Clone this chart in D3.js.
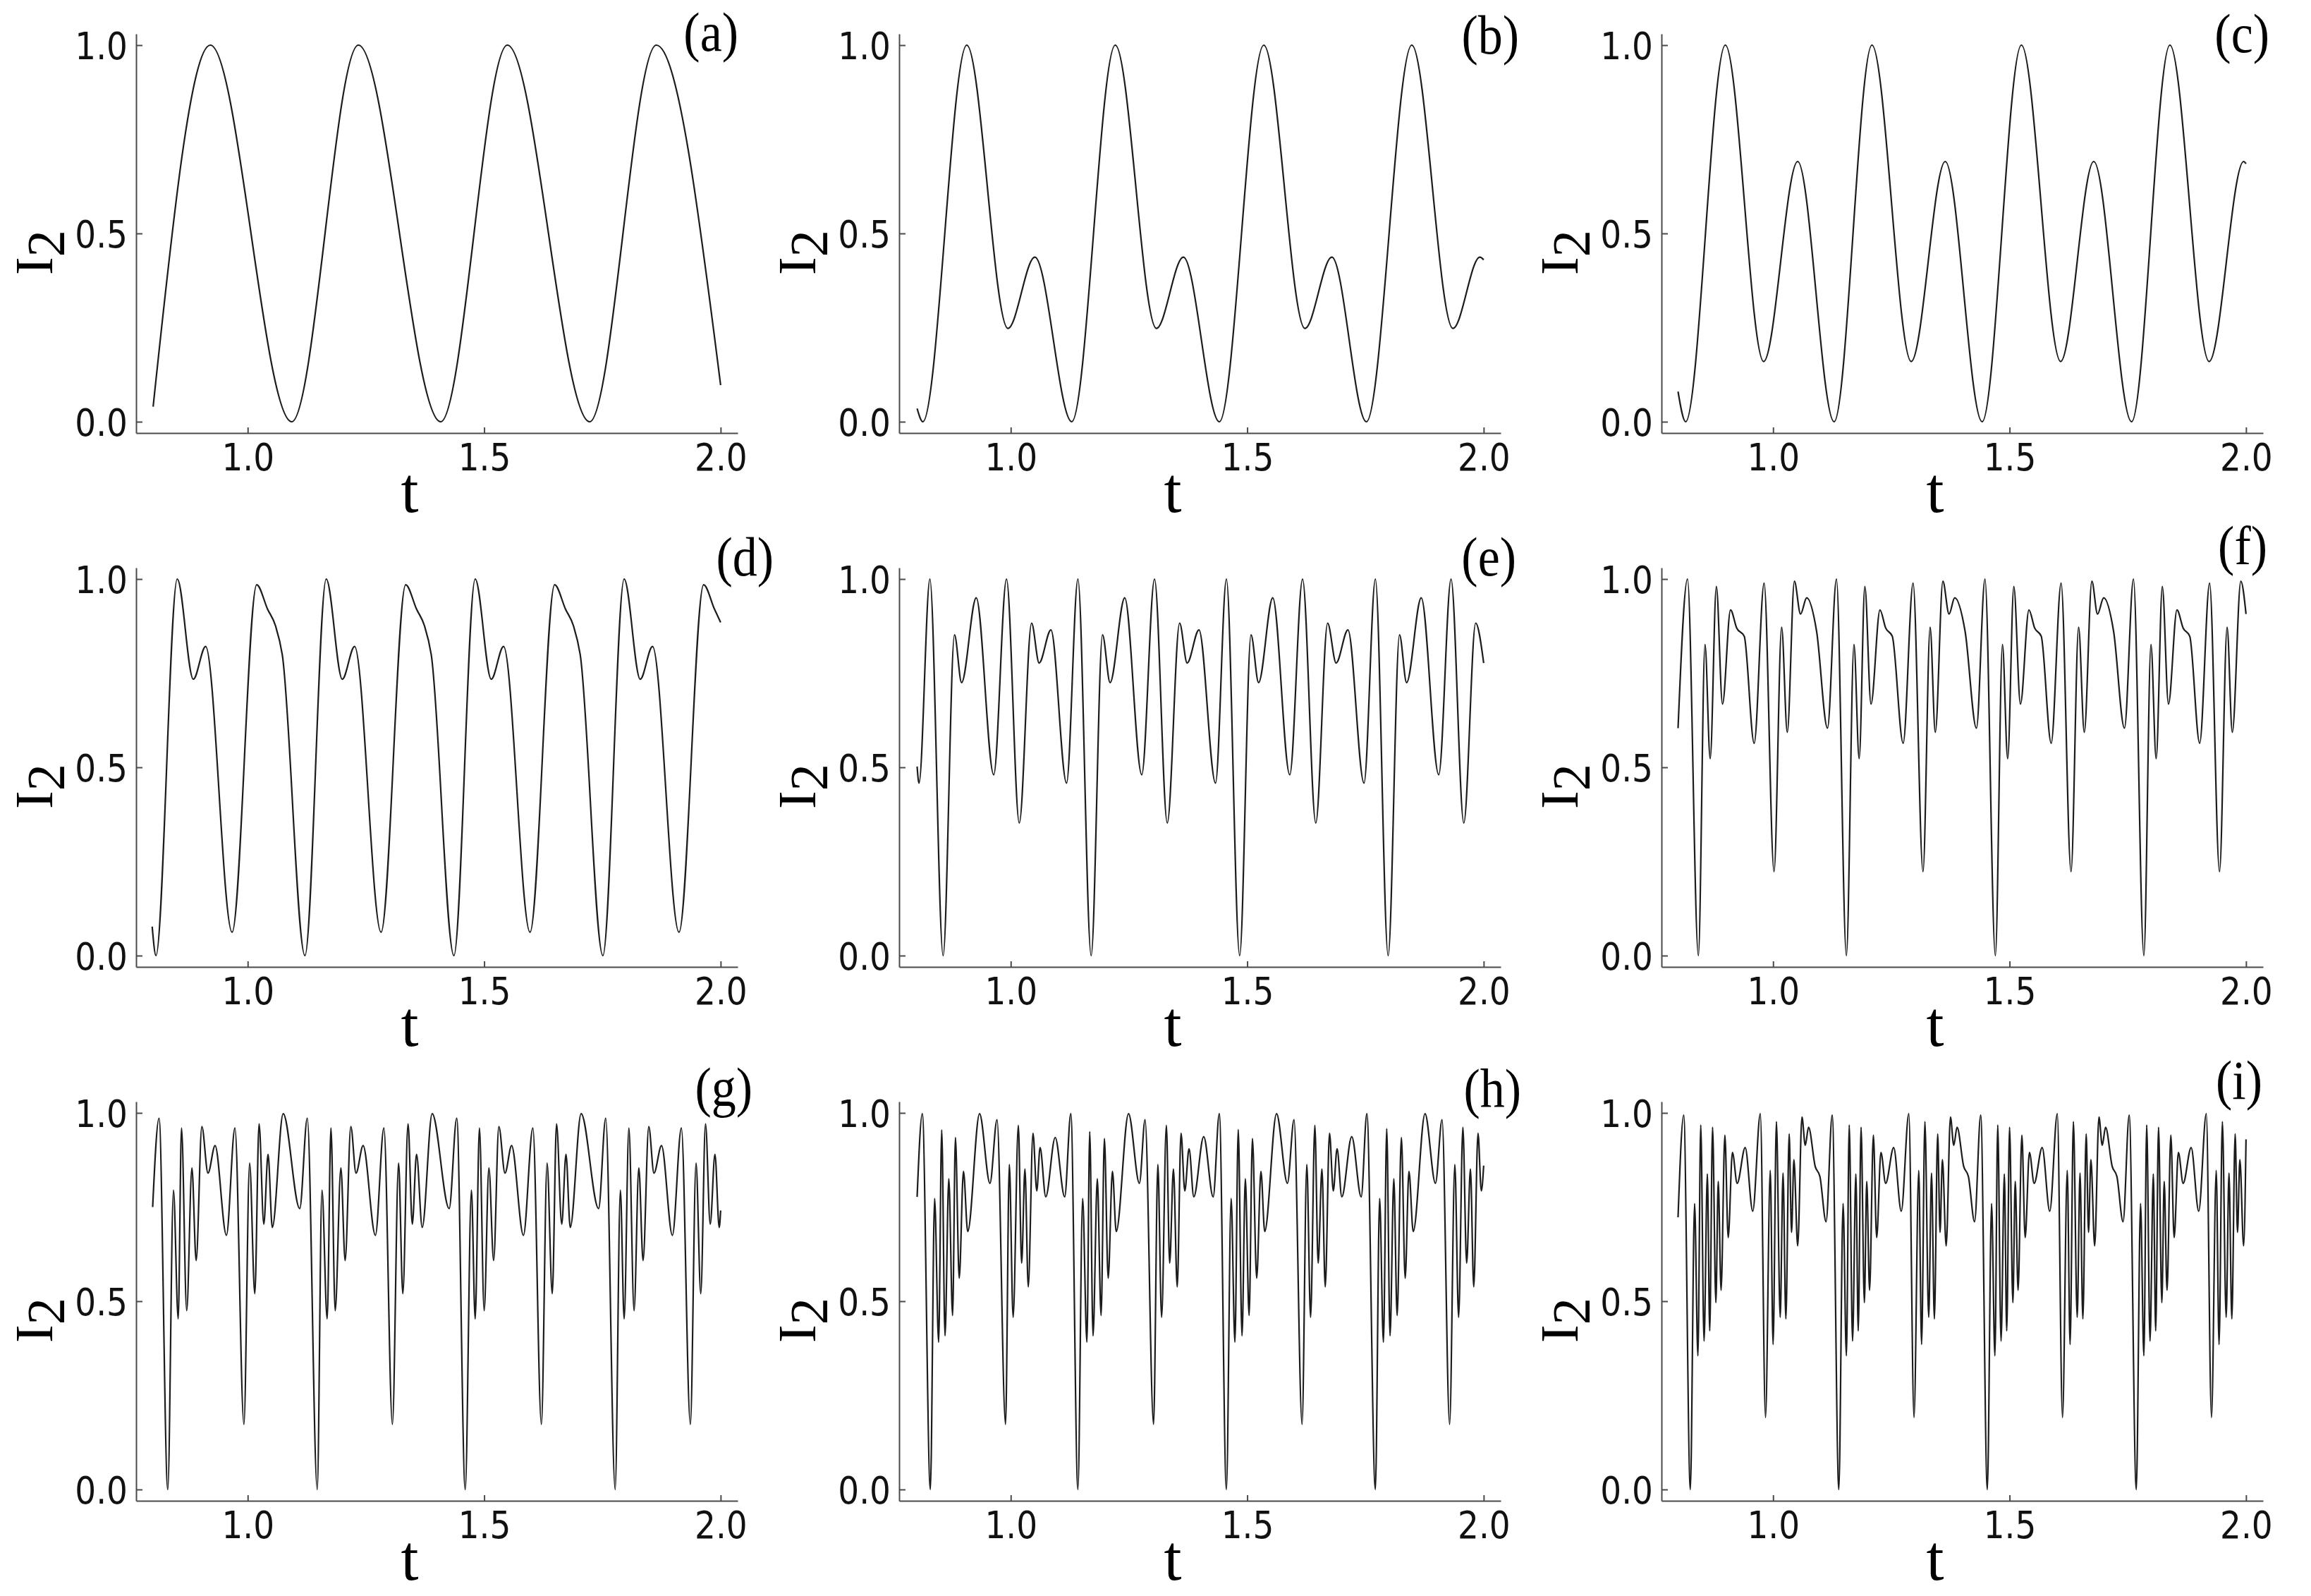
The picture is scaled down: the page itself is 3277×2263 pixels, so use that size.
<!DOCTYPE html>
<html>
<head>
<meta charset="utf-8">
<script src="https://cdn.jsdelivr.net/npm/d3@7"></script>
<style>
  html, body { margin: 0; padding: 0; background: #ffffff; }
  svg { display: block; }
</style>
</head>
<body>
<svg id="chart" width="3277" height="2263"></svg>
<script>
// ---------------- data ----------------
const xTickValues = [1.0, 1.5, 2.0];
const xTickLabels = ["1.0", "1.5", "2.0"];
const yTickValues = [0.0, 0.5, 1.0];
const yTickLabels = ["0.0", "0.5", "1.0"];
const panelLabels = ["(a)", "(b)", "(c)", "(d)", "(e)", "(f)", "(g)", "(h)", "(i)"];
const xAxisTitle = "t";
const yAxisTitleMain = "I";
const yAxisTitleSub = "2";

const tA = [0.800, 0.921, 1.093, 1.234, 1.408, 1.549, 1.723, 1.864, 2.000];
const vA = [0.040, 1.000, 0.000, 1.000, 0.000, 1.000, 0.000, 1.000, 0.097];

const tB = [0.802, 0.814, 0.907, 0.994, 1.051, 1.129, 1.221, 1.308, 1.365, 1.441, 1.535, 1.622, 1.679, 1.752, 1.848, 1.935, 1.992, 2.000];
const vB = [0.035, 0.000, 1.000, 0.248, 0.437, 0.000, 1.000, 0.248, 0.437, 0.000, 1.000, 0.248, 0.437, 0.000, 1.000, 0.248, 0.437, 0.430];

const tC = [0.799, 0.815, 0.899, 0.980, 1.052, 1.129, 1.209, 1.292, 1.364, 1.442, 1.525, 1.608, 1.678, 1.758, 1.839, 1.922, 1.995, 2.000];
const vC = [0.080, 0.000, 1.000, 0.160, 0.691, 0.000, 1.000, 0.160, 0.691, 0.000, 1.000, 0.160, 0.691, 0.000, 1.000, 0.160, 0.691, 0.685];

const tD = [0.798, 0.806, 0.851, 0.885, 0.911, 0.967, 1.019, 1.042, 1.059, 1.073,
            1.121, 1.166, 1.200, 1.226, 1.282, 1.334, 1.357, 1.374, 1.388,
            1.436, 1.481, 1.515, 1.541, 1.597, 1.649, 1.672, 1.689, 1.703,
            1.751, 1.796, 1.830, 1.856, 1.912, 1.964, 1.987, 2.000];
const vD = [0.077, 0.000, 1.000, 0.734, 0.821, 0.062, 0.985, 0.920, 0.875, 0.800,
            0.000, 1.000, 0.734, 0.821, 0.062, 0.985, 0.920, 0.875, 0.800,
            0.000, 1.000, 0.734, 0.821, 0.062, 0.985, 0.920, 0.875, 0.800,
            0.000, 1.000, 0.734, 0.821, 0.062, 0.985, 0.920, 0.885];

const tE = [0.802, 0.806, 0.829,
            0.857, 0.881, 0.896, 0.927, 0.964, 0.991, 1.018, 1.044, 1.060, 1.085, 1.118, 1.142,
            1.170, 1.194, 1.210, 1.241, 1.277, 1.304, 1.331, 1.357, 1.373, 1.398, 1.433, 1.456,
            1.484, 1.508, 1.524, 1.554, 1.590, 1.617, 1.645, 1.670, 1.688, 1.713, 1.747, 1.771,
            1.798, 1.822, 1.837, 1.868, 1.905, 1.931, 1.958, 1.983, 2.000];
const vE = [0.502, 0.458, 1.000,
            0.000, 0.852, 0.725, 0.950, 0.480, 1.000, 0.352, 0.883, 0.777, 0.865, 0.458, 1.000,
            0.000, 0.852, 0.725, 0.950, 0.480, 1.000, 0.352, 0.883, 0.777, 0.865, 0.458, 1.000,
            0.000, 0.852, 0.725, 0.950, 0.480, 1.000, 0.352, 0.883, 0.777, 0.865, 0.458, 1.000,
            0.000, 0.852, 0.725, 0.950, 0.480, 1.000, 0.352, 0.883, 0.777];

const tF = [0.799, 0.819,
            0.842, 0.856, 0.867, 0.880, 0.893, 0.910, 0.923, 0.939, 0.960, 0.981, 1.002, 1.018, 1.030, 1.045, 1.058, 1.071, 1.092, 1.115, 1.134,
            1.155, 1.171, 1.182, 1.194, 1.207, 1.226, 1.238, 1.252, 1.275, 1.296, 1.317, 1.332, 1.343, 1.359, 1.372, 1.384, 1.406, 1.430, 1.448,
            1.470, 1.485, 1.496, 1.509, 1.523, 1.541, 1.553, 1.567, 1.588, 1.609, 1.630, 1.646, 1.658, 1.674, 1.686, 1.699, 1.720, 1.743, 1.762,
            1.784, 1.799, 1.810, 1.823, 1.836, 1.854, 1.867, 1.881, 1.902, 1.923, 1.944, 1.960, 1.971, 1.989, 2.000];
const vF = [0.604, 1.000,
            0.000, 0.826, 0.523, 0.980, 0.668, 0.918, 0.870, 0.848, 0.564, 0.989, 0.223, 0.872, 0.593, 0.994, 0.907, 0.950, 0.861, 0.604, 1.000,
            0.000, 0.826, 0.523, 0.980, 0.668, 0.918, 0.870, 0.848, 0.564, 0.989, 0.223, 0.872, 0.593, 0.994, 0.907, 0.950, 0.861, 0.604, 1.000,
            0.000, 0.826, 0.523, 0.980, 0.668, 0.918, 0.870, 0.848, 0.564, 0.989, 0.223, 0.872, 0.593, 0.994, 0.907, 0.950, 0.861, 0.604, 1.000,
            0.000, 0.826, 0.523, 0.980, 0.668, 0.918, 0.870, 0.848, 0.564, 0.989, 0.223, 0.872, 0.593, 0.994, 0.907];

const tG = [0.799, 0.8125,
            0.831, 0.843, 0.853, 0.860, 0.871, 0.882, 0.891, 0.903, 0.916, 0.931, 0.955, 0.973, 0.992, 1.004, 1.015, 1.024, 1.034, 1.043, 1.052, 1.075, 1.110, 1.126,
            1.147, 1.157, 1.168, 1.176, 1.185, 1.197, 1.206, 1.218, 1.229, 1.244, 1.270, 1.288, 1.306, 1.319, 1.328, 1.339, 1.348, 1.357, 1.369, 1.390, 1.426, 1.442,
            1.460, 1.473, 1.481, 1.490, 1.500, 1.510, 1.520, 1.531, 1.544, 1.558, 1.583, 1.603, 1.621, 1.633, 1.644, 1.653, 1.664, 1.673, 1.682, 1.705, 1.742, 1.757,
            1.777, 1.788, 1.796, 1.806, 1.817, 1.827, 1.836, 1.848, 1.859, 1.875, 1.898, 1.917, 1.936, 1.948, 1.958, 1.968, 1.978, 1.988, 1.997, 2.000];
const vG = [0.750, 0.986,
            0.000, 0.795, 0.453, 0.960, 0.475, 0.854, 0.608, 0.964, 0.840, 0.913, 0.675, 0.960, 0.173, 0.867, 0.520, 0.971, 0.705, 0.890, 0.696, 0.998, 0.746, 0.986,
            0.000, 0.795, 0.453, 0.960, 0.475, 0.854, 0.608, 0.964, 0.840, 0.913, 0.675, 0.960, 0.173, 0.867, 0.520, 0.971, 0.705, 0.890, 0.696, 0.998, 0.746, 0.986,
            0.000, 0.795, 0.453, 0.960, 0.475, 0.854, 0.608, 0.964, 0.840, 0.913, 0.675, 0.960, 0.173, 0.867, 0.520, 0.971, 0.705, 0.890, 0.696, 0.998, 0.746, 0.986,
            0.000, 0.795, 0.453, 0.960, 0.475, 0.854, 0.608, 0.964, 0.840, 0.913, 0.675, 0.960, 0.173, 0.867, 0.520, 0.971, 0.705, 0.890, 0.696, 0.741];

const tH = [0.802, 0.813,
            0.830, 0.839, 0.8475, 0.854, 0.861, 0.869, 0.877, 0.883, 0.891, 0.900, 0.909, 0.934, 0.956, 0.971, 0.989, 0.997, 1.005, 1.016, 1.023, 1.030, 1.037, 1.047, 1.055, 1.062, 1.074, 1.094, 1.114, 1.127,
            1.142, 1.152, 1.161, 1.167, 1.174, 1.183, 1.191, 1.198, 1.206, 1.215, 1.223, 1.249, 1.272, 1.284, 1.302, 1.311, 1.319, 1.329, 1.336, 1.344, 1.352, 1.360, 1.368, 1.377, 1.387, 1.408, 1.428, 1.441,
            1.456, 1.466, 1.474, 1.481, 1.489, 1.496, 1.504, 1.511, 1.520, 1.529, 1.537, 1.562, 1.585, 1.599, 1.616, 1.626, 1.634, 1.643, 1.650, 1.658, 1.665, 1.674, 1.682, 1.690, 1.700, 1.721, 1.741, 1.753,
            1.771, 1.780, 1.788, 1.795, 1.802, 1.810, 1.817, 1.826, 1.834, 1.842, 1.851, 1.876, 1.898, 1.912, 1.928, 1.939, 1.947, 1.956, 1.964, 1.972, 1.979, 1.988, 1.995, 2.000];
const vH = [0.777, 0.998,
            0.000, 0.773, 0.391, 0.955, 0.408, 0.825, 0.462, 0.935, 0.561, 0.845, 0.685, 0.998, 0.813, 0.982, 0.173, 0.863, 0.457, 0.967, 0.601, 0.851, 0.538, 0.946, 0.793, 0.908, 0.777, 0.935, 0.777, 0.998,
            0.000, 0.773, 0.391, 0.950, 0.408, 0.825, 0.462, 0.932, 0.561, 0.845, 0.685, 0.998, 0.813, 0.982, 0.173, 0.863, 0.457, 0.967, 0.601, 0.851, 0.538, 0.946, 0.793, 0.905, 0.777, 0.937, 0.777, 0.998,
            0.000, 0.773, 0.391, 0.956, 0.408, 0.825, 0.462, 0.932, 0.561, 0.845, 0.685, 0.998, 0.813, 0.982, 0.173, 0.863, 0.457, 0.967, 0.601, 0.851, 0.538, 0.946, 0.793, 0.905, 0.777, 0.937, 0.777, 0.998,
            0.000, 0.773, 0.391, 0.958, 0.408, 0.825, 0.462, 0.935, 0.561, 0.845, 0.685, 0.998, 0.813, 0.982, 0.173, 0.863, 0.457, 0.962, 0.601, 0.851, 0.538, 0.946, 0.793, 0.860];

const tI = [0.799, 0.811,
            0.825, 0.834, 0.841, 0.847, 0.854, 0.861, 0.866, 0.872, 0.879, 0.884, 0.890, 0.898, 0.905, 0.914, 0.924, 0.941, 0.957, 0.973, 0.984, 0.994, 1.000, 1.007, 1.015, 1.021, 1.027, 1.034, 1.039, 1.044, 1.052, 1.061, 1.068, 1.075, 1.089, 1.099, 1.112, 1.125,
            1.139, 1.148, 1.155, 1.161, 1.168, 1.175, 1.180, 1.186, 1.193, 1.198, 1.204, 1.212, 1.219, 1.228, 1.238, 1.255, 1.271, 1.287, 1.298, 1.308, 1.314, 1.321, 1.329, 1.335, 1.341, 1.348, 1.353, 1.358, 1.366, 1.375, 1.382, 1.389, 1.403, 1.413, 1.426, 1.439,
            1.453, 1.462, 1.469, 1.475, 1.482, 1.489, 1.494, 1.500, 1.507, 1.512, 1.518, 1.526, 1.533, 1.542, 1.552, 1.569, 1.585, 1.601, 1.612, 1.622, 1.628, 1.635, 1.643, 1.649, 1.655, 1.662, 1.667, 1.672, 1.680, 1.689, 1.696, 1.703, 1.717, 1.727, 1.740, 1.753,
            1.768, 1.777, 1.784, 1.790, 1.797, 1.804, 1.809, 1.815, 1.822, 1.827, 1.833, 1.841, 1.848, 1.857, 1.867, 1.884, 1.900, 1.916, 1.927, 1.937, 1.943, 1.950, 1.958, 1.964, 1.970, 1.977, 1.982, 1.987, 1.995, 2.000];
const vI = [0.723, 0.994,
            0.000, 0.759, 0.355, 0.968, 0.394, 0.838, 0.421, 0.962, 0.496, 0.818, 0.529, 0.941, 0.669, 0.895, 0.813, 0.908, 0.739, 0.998, 0.191, 0.847, 0.385, 0.977, 0.457, 0.840, 0.453, 0.944, 0.683, 0.876, 0.647, 0.989, 0.914, 0.962, 0.858, 0.831, 0.711, 0.994,
            0.000, 0.759, 0.355, 0.968, 0.394, 0.838, 0.421, 0.962, 0.496, 0.818, 0.529, 0.941, 0.669, 0.895, 0.813, 0.908, 0.739, 0.998, 0.191, 0.847, 0.385, 0.977, 0.457, 0.840, 0.453, 0.944, 0.683, 0.876, 0.647, 0.989, 0.914, 0.962, 0.858, 0.831, 0.711, 0.994,
            0.000, 0.759, 0.355, 0.968, 0.394, 0.838, 0.421, 0.962, 0.496, 0.818, 0.529, 0.941, 0.669, 0.895, 0.813, 0.908, 0.739, 0.998, 0.191, 0.847, 0.385, 0.977, 0.457, 0.840, 0.453, 0.944, 0.683, 0.876, 0.647, 0.989, 0.914, 0.962, 0.858, 0.831, 0.711, 0.994,
            0.000, 0.759, 0.355, 0.968, 0.394, 0.838, 0.421, 0.962, 0.496, 0.818, 0.529, 0.941, 0.669, 0.895, 0.813, 0.908, 0.739, 0.998, 0.191, 0.847, 0.385, 0.977, 0.457, 0.840, 0.453, 0.944, 0.683, 0.876, 0.647, 0.930];

const seriesT = [tA, tB, tC, tD, tE, tF, tG, tH, tI];
const seriesV = [vA, vB, vC, vD, vE, vF, vG, vH, vI];

// ---------------- layout ----------------
const colLeft = [193, 1275, 2356];
const rowTop = [48, 805, 1562];
const W = 853, H = 566;
const xDomain = [0.764, 2.036];
const yDomain = [-0.03, 1.03];
// panel-letter anchor (right edge, baseline) in page coords
const letterPos = [[1047, 72], [2154, 76], [3218, 74],
                   [1097, 816], [2150, 816], [3215, 800],
                   [1067, 1568], [2157, 1570], [3208, 1558]];

const axisColor = "#4a4a4a";
const lineColor = "#1c1c1c";
const stretch = 1.12;

const svg = d3.select("#chart");
svg.append("rect").attr("width", 3277).attr("height", 2263).attr("fill", "#fff");

const x = d3.scaleLinear().domain(xDomain).range([0, W]);
const y = d3.scaleLinear().domain(yDomain).range([H, 0]);
const line = d3.line().x(d => x(d[0])).y(d => y(d[1])).curve(d3.curveMonotoneX);

for (let p = 0; p < 9; p++) {
  const r = Math.floor(p / 3), c = p % 3;
  const g = svg.append("g").attr("transform", `translate(${colLeft[c]},${rowTop[r]})`);

  // x axis
  const gx = g.append("g").attr("transform", `translate(0,${H})`)
    .call(d3.axisBottom(x).tickValues(xTickValues).tickFormat((d, i) => xTickLabels[i])
      .tickSizeInner(-8).tickSizeOuter(0));
  // y axis
  const gy = g.append("g")
    .call(d3.axisLeft(y).tickValues(yTickValues).tickFormat((d, i) => yTickLabels[i])
      .tickSizeInner(-9).tickSizeOuter(0));

  [gx, gy].forEach(a => {
    a.attr("font-family", "'DejaVu Sans', sans-serif").attr("font-size", 47);
    a.select(".domain").attr("stroke", axisColor).attr("stroke-width", 2);
    a.selectAll(".tick line").attr("stroke", axisColor).attr("stroke-width", 2);
    a.selectAll(".tick text").attr("fill", "#111");
  });
  gx.selectAll(".tick text").attr("y", 53 / stretch).attr("dy", null)
    .attr("transform", `scale(1,${stretch})`);
  gy.selectAll(".tick text").attr("x", -12).attr("dy", "0.3645em")
    .attr("transform", `scale(1,${stretch})`);

  // curve
  g.append("path")
    .datum(d3.zip(seriesT[p], seriesV[p]))
    .attr("fill", "none")
    .attr("stroke", lineColor)
    .attr("stroke-width", 2.2)
    .attr("stroke-linejoin", "round")
    .attr("d", line);

  // y title I_2
  const yt = g.append("text")
    .attr("transform", `translate(${74 - colLeft[0]},${310}) rotate(-90)`)
    .attr("text-anchor", "middle")
    .attr("font-family", "'Liberation Serif', 'Times New Roman', serif")
    .attr("font-size", 77)
    .attr("fill", "#000");
  yt.append("tspan").text(yAxisTitleMain);
  yt.append("tspan").attr("dy", 17).text(yAxisTitleSub);

  // x title t
  g.append("text")
    .attr("x", 388)
    .attr("y", H + 112)
    .attr("text-anchor", "middle")
    .attr("font-family", "'Liberation Serif', 'Times New Roman', serif")
    .attr("font-size", 90)
    .attr("fill", "#000")
    .text(xAxisTitle);

  // panel letter
  svg.append("text")
    .attr("transform", `translate(${letterPos[p][0]},${letterPos[p][1]}) scale(1,${stretch})`)
    .attr("text-anchor", "end")
    .attr("font-family", "'Liberation Serif', 'Times New Roman', serif")
    .attr("font-size", 70)
    .attr("fill", "#000")
    .text(panelLabels[p]);
}
</script>
</body>
</html>
